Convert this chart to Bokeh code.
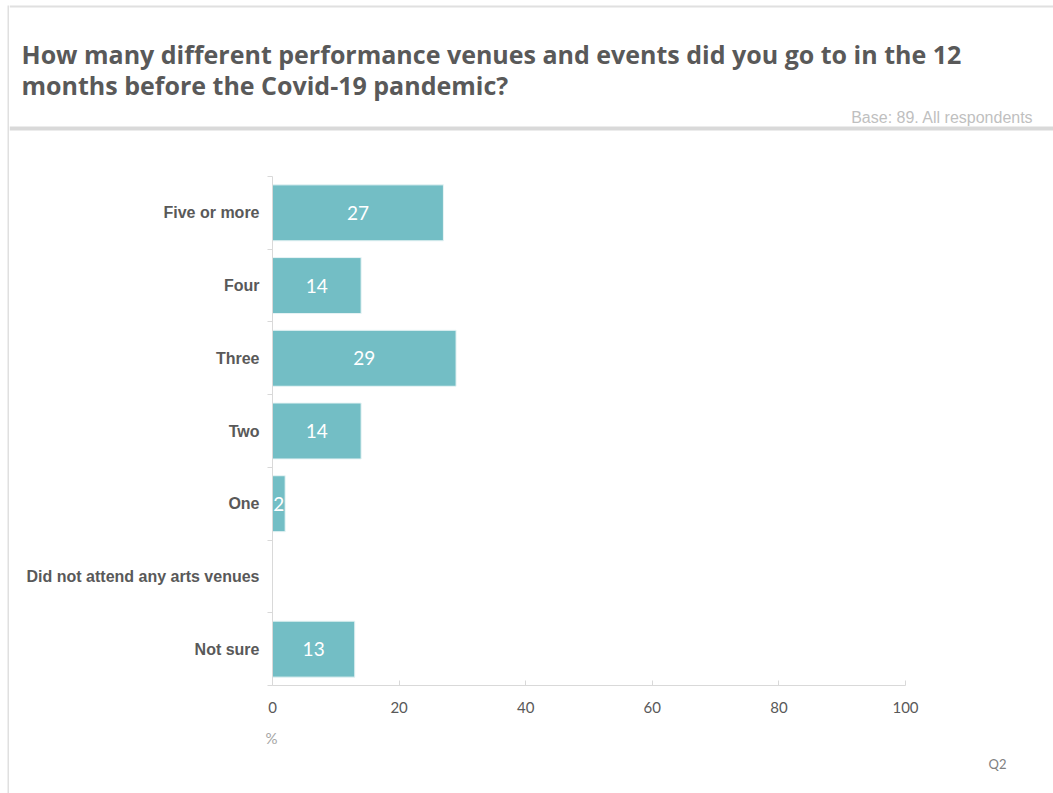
from bokeh.plotting import figure
from bokeh.models import Range1d, FixedTicker, LinearAxis
from bokeh.layouts import row, column
from bokeh.core.properties import value
from bokeh.embed import file_html
from bokeh.resources import INLINE

# Survey answers, top to bottom, and share of respondents (%)
categories = ["Five or more", "Four", "Three", "Two", "One",
              "Did not attend any arts venues", "Not sure"]
percent = [27, 14, 29, 14, 2, 0, 13]
x_ticks = [0, 20, 40, 60, 80, 100]

title_lines = ["How many different performance venues and events did you go to in the 12",
               "months before the Covid-19 pandemic?"]
base_note = "Base: 89. All respondents"
question_id = "Q2"
unit_label = "%"

W, H = 1053, 793
STRIP_W = 9            # left page edge
HEAD_H = 132           # header band (title + base note)
FOOT_H = 65            # footer band (unit + question id)
MAIN_H = H - HEAD_H - FOOT_H
FL, FR, FT, FB = 272, 905, 176, 685  # plot frame edges on the page

AXIS_COL = "#d9d9d9"
EDGE_COL = "#e0e0e0"
TEXT_COL = "#595959"


def blank(width, height, x0, x1, y0, y1):
    """A figure whose data space equals page pixels (y grows downward)."""
    f = figure(width=width, height=height, output_backend="svg", toolbar_location=None,
               x_range=Range1d(x0, x1), y_range=Range1d(y1, y0),
               min_border=0, x_axis_location=None, y_axis_location=None)
    f.outline_line_color = None
    f.grid.visible = False
    f.background_fill_color = "white"
    f.border_fill_color = "white"
    f.frame_align = False
    return f


# left page edge
strip = blank(STRIP_W, H, 0, STRIP_W, 0, H)
strip.quad(left=[7], right=[9], top=[5], bottom=[H], fill_color=EDGE_COL, line_color=None)

# header: title, base note, rules
head = blank(W - STRIP_W, HEAD_H, STRIP_W, W, 0, HEAD_H)
head.quad(left=[STRIP_W], right=[W], top=[5], bottom=[7], fill_color=EDGE_COL, line_color=None)
head.quad(left=[STRIP_W], right=[W], top=[126], bottom=[130], fill_color=AXIS_COL, line_color=None)
head.text(x=[21, 21], y=[53, 84], text=title_lines, text_align="left",
          text_baseline="middle", text_color=TEXT_COL,
          text_font=value("Open Sans"), text_font_style="bold", text_font_size="25px")
head.text(x=[1033], y=[117], text=[base_note], text_align="right",
          text_baseline="middle", text_color="#bfbfbf",
          text_font=value("Liberation Sans"), text_font_size="16px")

# main bar chart
n = len(categories)
ypos = [n - 1 - i for i in range(n)]
p = figure(width=W - STRIP_W, height=MAIN_H, output_backend="svg", toolbar_location=None,
           x_range=Range1d(0, 100), y_range=Range1d(-0.5, n - 0.5),
           min_border_left=FL - STRIP_W, min_border_right=W - FR,
           min_border_top=FT - HEAD_H, min_border_bottom=HEAD_H + MAIN_H - FB,
           x_axis_location=None, y_axis_location=None)
p.outline_line_color = None
p.grid.visible = False
p.background_fill_color = "white"
p.border_fill_color = "white"
p.frame_align = False

# category axis: labels at band centres, small ticks at band boundaries
yax = LinearAxis(ticker=FixedTicker(ticks=ypos, minor_ticks=[i - 0.5 for i in range(n + 1)]))
yax.major_label_overrides = {float(y): c for y, c in zip(ypos, categories)}
yax.major_tick_out = 0
yax.major_tick_in = 0
yax.minor_tick_out = 5
yax.minor_tick_in = 0
yax.minor_tick_line_color = AXIS_COL
yax.axis_line_color = AXIS_COL
yax.major_label_standoff = 8
yax.major_label_text_font = "Liberation Sans"
yax.major_label_text_font_style = "bold"
yax.major_label_text_font_size = "16px"
yax.major_label_text_color = TEXT_COL
p.add_layout(yax, "left")

xax = LinearAxis(ticker=FixedTicker(ticks=x_ticks))
xax.major_tick_in = 5
xax.major_tick_out = 0
xax.minor_tick_line_color = None
xax.major_tick_line_color = AXIS_COL
xax.axis_line_color = AXIS_COL
xax.major_label_standoff = 16
xax.major_label_text_font = "Lato"
xax.major_label_text_font_size = "15px"
xax.major_label_text_color = TEXT_COL
p.add_layout(xax, "below")

p.hbar(y=ypos, right=percent, left=0, height=0.77,
       fill_color="#73bec5", line_color="#e8f4f5", line_width=1)

# value labels inside bars (none for empty answers)
lx = [v / 2 for v in percent if v > 0]
ly = [y for y, v in zip(ypos, percent) if v > 0]
lt = [str(v) for v in percent if v > 0]
p.text(x=lx, y=ly, text=lt, text_align="center", text_baseline="middle",
       text_color="white", text_font=value("Lato"), text_font_size="19px")

# footer: unit and question id
foot = blank(W - STRIP_W, FOOT_H, STRIP_W, W, H - FOOT_H, H)
foot.text(x=[271], y=[737], text=[unit_label], text_align="center", text_baseline="middle",
          text_color="#a6a6a6", text_font=value("Lato"), text_font_size="15px")
foot.text(x=[997], y=[763], text=[question_id], text_align="center", text_baseline="middle",
          text_color="#808080", text_font=value("Lato"), text_font_size="13px")

layout = row(strip, column(head, p, foot))
open("out.html", "w").write(file_html(layout, INLINE))
